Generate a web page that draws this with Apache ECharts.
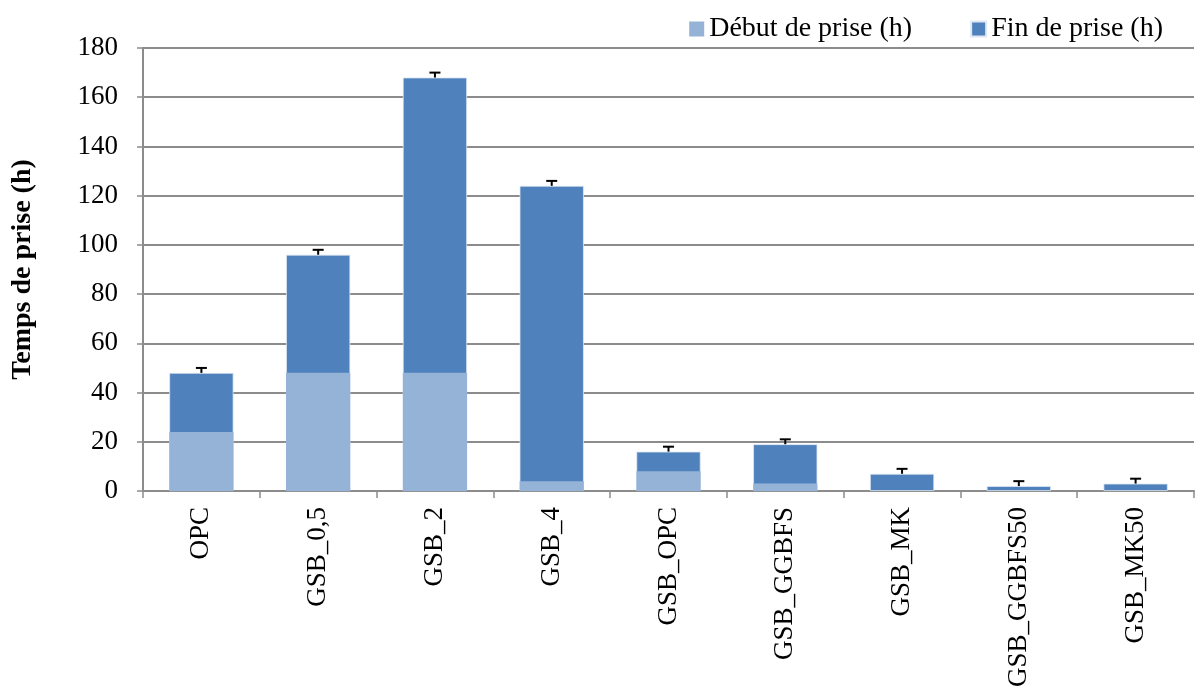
<!DOCTYPE html>
<html>
<head>
<meta charset="utf-8">
<script src="https://cdn.jsdelivr.net/npm/echarts@6/dist/echarts.min.js"></script>
<style>
  html, body { margin: 0; padding: 0; background: #fff; }
  #chart { width: 1195px; height: 686px; }
</style>
</head>
<body>
<div id="chart"></div>
<script>
// Setting times per mix (hours)
const categories = ['OPC', 'GSB_0,5', 'GSB_2', 'GSB_4', 'GSB_OPC', 'GSB_GGBFS', 'GSB_MK', 'GSB_GGBFS50', 'GSB_MK50'];
const debutPrise = [24, 48, 48, 4, 8, 3, 0, 0, 0];
const finPrise = [48, 96, 168, 124, 16, 19, 7, 2, 3];
const finError = [2, 2, 2, 2, 2, 2, 2, 2, 2];
const yTicks = { min: 0, max: 180, interval: 20 };

const serif = '"Liberation Serif", "Times New Roman", serif';
const gridGray = '#8c8c8c';

const chart = echarts.init(document.getElementById('chart'), null, { renderer: 'canvas' });

chart.setOption({
  animation: false,
  textStyle: { fontFamily: serif },
  legend: {
    top: 10,
    right: 27,
    itemWidth: 15,
    itemHeight: 15,
    itemGap: 58,
    icon: 'rect',
    data: ['Début de prise (h)', 'Fin de prise (h)'],
    textStyle: { fontFamily: serif, fontSize: 28, color: '#000' }
  },
  grid: { left: 143, right: 1, top: 48, bottom: 195, containLabel: false, outerBoundsMode: 'none' },
  xAxis: {
    type: 'category',
    data: categories,
    boundaryGap: true,
    axisLine: { lineStyle: { color: gridGray, width: 2 } },
    axisTick: { show: true, length: 7, lineStyle: { color: gridGray, width: 1.5 } },
    axisLabel: {
      rotate: 90,
      interval: 0,
      margin: 16,
      fontFamily: serif,
      fontSize: 27,
      color: '#000'
    }
  },
  yAxis: {
    type: 'value',
    min: yTicks.min,
    max: yTicks.max,
    interval: yTicks.interval,
    name: 'Temps de prise (h)',
    nameLocation: 'middle',
    nameGap: 106,
    nameRotate: 90,
    nameTextStyle: { fontFamily: serif, fontSize: 28, fontWeight: 'bold', color: '#000' },
    axisLine: { show: true, lineStyle: { color: gridGray, width: 2 } },
    axisTick: { show: true, length: 6, lineStyle: { color: gridGray, width: 1.5 } },
    axisLabel: { margin: 25, fontFamily: serif, fontSize: 27, color: '#000' },
    splitLine: { show: true, lineStyle: { color: gridGray, width: 2 } }
  },
  series: [
    {
      name: 'Fin de prise (h)',
      type: 'bar',
      data: finPrise,
      barWidth: '55%',
      barGap: '-100%',
      itemStyle: { color: '#4f81bd', borderColor: '#dfe8f3', borderWidth: 0.8 },
      z: 2
    },
    {
      name: 'Début de prise (h)',
      type: 'bar',
      data: debutPrise,
      barWidth: '55%',
      barGap: '-100%',
      itemStyle: { color: '#95b3d7' },
      z: 3
    },
    {
      name: 'erreur',
      type: 'custom',
      z: 4,
      data: finPrise.map((v, i) => [i, v, v + finError[i]]),
      renderItem: function (params, api) {
        const base = api.coord([api.value(0), api.value(1)]);
        const top = api.coord([api.value(0), api.value(2)]);
        const half = 5.5;
        const style = { stroke: '#000', lineWidth: 2, fill: null };
        return {
          type: 'group',
          children: [
            { type: 'line', shape: { x1: base[0], y1: base[1], x2: top[0], y2: top[1] }, style: style },
            { type: 'line', shape: { x1: top[0] - half, y1: top[1], x2: top[0] + half, y2: top[1] }, style: style }
          ]
        };
      }
    }
  ]
});
</script>
</body>
</html>
